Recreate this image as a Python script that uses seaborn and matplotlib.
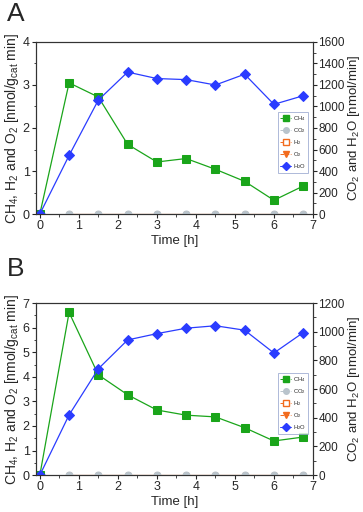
import numpy as np
import pandas as pd
import matplotlib
matplotlib.use('Agg')
import matplotlib.pyplot as plt
import seaborn as sns
from matplotlib.lines import Line2D
from matplotlib.ticker import AutoMinorLocator

# ---- data ----
time_h = [0, 0.75, 1.5, 2.25, 3, 3.75, 4.5, 5.25, 6, 6.75]

ch4_a = [0, 3.05, 2.72, 1.62, 1.21, 1.29, 1.04, 0.76, 0.32, 0.65]
h2o_a = [0, 545, 1060, 1320, 1260, 1250, 1200, 1300, 1020, 1100]

ch4_b = [0, 6.62, 4.08, 3.27, 2.65, 2.44, 2.37, 1.93, 1.39, 1.55]
h2o_b = [0, 420, 742, 943, 987, 1025, 1042, 1011, 852, 994]

# CO2, H2, O2 stay at zero (only measured from 0.75 h on)
time_zero = time_h[1:]
co2_zero = [0] * len(time_zero)
h2_zero = [0] * len(time_zero)
o2_zero = [0] * len(time_zero)

GREEN = '#1aa51a'
BLUE = '#2a3cff'
GREY = '#b9c4cc'
ORANGE = '#f26b1d'

sns.set_style('ticks')
plt.rcParams['font.family'] = ['Liberation Sans', 'DejaVu Sans']
plt.rcParams['mathtext.fontset'] = 'custom'
plt.rcParams['mathtext.rm'] = 'Liberation Sans'
plt.rcParams['mathtext.it'] = 'Liberation Sans:italic'

fig = plt.figure(figsize=(3.63, 5.12), dpi=100)

panels = [
    ('A', ch4_a, h2o_a, (4, 1600), [0.099, 0.582, 0.763, 0.336], 0.997),
    ('B', ch4_b, h2o_b, (7, 1200), [0.099, 0.072, 0.763, 0.336], 0.498),
]

for letter, ch4, h2o, (lmax, rmax), rect, letter_y in panels:
    ax = fig.add_axes(rect)
    ax2 = ax.twinx()

    df_l = pd.DataFrame({'t': time_h, 'CH4': ch4})
    df_z = pd.DataFrame({'t': time_zero, 'H2': h2_zero, 'O2': o2_zero, 'CO2': co2_zero})
    df_r = pd.DataFrame({'t': time_h, 'H2O': h2o})

    sns.lineplot(data=df_z, x='t', y='H2', ax=ax, color=ORANGE, marker='s', markersize=3.5,
                 markerfacecolor='white', markeredgecolor=ORANGE, lw=0.8)
    sns.lineplot(data=df_z, x='t', y='O2', ax=ax, color=ORANGE, marker='v', markersize=3.5,
                 markeredgecolor=ORANGE, lw=0.8)
    sns.lineplot(data=df_l, x='t', y='CH4', ax=ax, color=GREEN, marker='s', markersize=5.2,
                 markeredgecolor=GREEN, lw=0.9, zorder=3)

    sns.lineplot(data=df_z, x='t', y='CO2', ax=ax2, color=GREY, marker='o', markersize=5,
                 markeredgecolor=GREY, lw=0.8)
    sns.lineplot(data=df_r, x='t', y='H2O', ax=ax2, color=BLUE, marker='D', markersize=5.5,
                 markeredgecolor=BLUE, lw=0.9)

    ax.set_xlim(-0.1, 7)
    ax.set_ylim(0, lmax)
    ax2.set_ylim(0, rmax)
    ax.set_xticks(range(0, 8))
    ax.set_yticks(range(0, lmax + 1))
    ax2.set_yticks(np.arange(0, rmax + 1, 200))
    ax2.yaxis.set_minor_locator(AutoMinorLocator(2))
    ax.yaxis.set_minor_locator(AutoMinorLocator(2))
    ax.xaxis.set_minor_locator(AutoMinorLocator(2))

    for a in (ax, ax2):
        a.tick_params(labelsize=9, length=3, width=0.8, direction='out', pad=1.5)
        a.tick_params(which='minor', length=1.8, width=0.6)
        for s in a.spines.values():
            s.set_visible(True)
            s.set_linewidth(0.8)
            s.set_color('#333333')
    ax2.tick_params(labelsize=8.5, pad=1)

    ax.set_xlabel('Time [h]', fontsize=9.5, labelpad=2)
    ax.set_ylabel('CH$_4$, H$_2$ and O$_2$ [nmol/g$_{\\mathrm{cat}}$ min]', fontsize=10, labelpad=1.5)
    ax2.set_ylabel('CO$_2$ and H$_2$O [nmol/min]', fontsize=9.5, labelpad=1)

    handles = [
        Line2D([], [], color=GREEN, ls='--', lw=0.7, marker='s', ms=4, mec=GREEN),
        Line2D([], [], color=GREY, ls='--', lw=0.7, marker='o', ms=4, mec=GREY),
        Line2D([], [], color=ORANGE, ls='--', lw=0.7, marker='s', ms=4, mfc='white', mec=ORANGE),
        Line2D([], [], color=ORANGE, ls='--', lw=0.7, marker='v', ms=4, mec=ORANGE),
        Line2D([], [], color=BLUE, ls='-', lw=0.7, marker='D', ms=4, mec=BLUE),
    ]
    labels = ['CH$_4$', 'CO$_2$', 'H$_2$', 'O$_2$', 'H$_2$O']
    leg = ax2.legend(handles, labels, loc='upper left', bbox_to_anchor=(0.873, 0.595),
                     fontsize=4.2, frameon=True, fancybox=False, handlelength=2.0,
                     handletextpad=0.3, labelspacing=0.55, borderpad=0.35, borderaxespad=0)
    leg.get_frame().set_edgecolor('#8a9ac8')
    leg.get_frame().set_linewidth(0.6)

    fig.text(0.02, letter_y, letter, fontsize=19, va='top', ha='left')

fig.savefig('out.png', dpi=100)
